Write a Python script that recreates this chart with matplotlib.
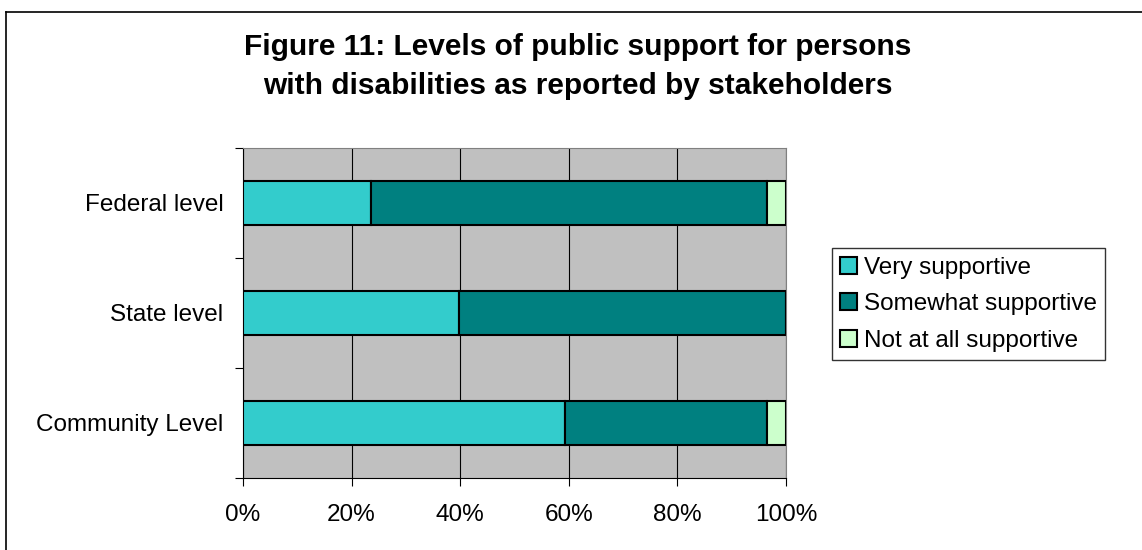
import matplotlib
matplotlib.use('Agg')
from matplotlib import pyplot as plt
from matplotlib.lines import Line2D
import numpy as np

plt.rcParams['font.family'] = ['Liberation Sans', 'DejaVu Sans']

# Data (percent of stakeholders)
categories = ['Community Level', 'State level', 'Federal level']
very = [59.3, 39.7, 23.6]
somewhat = [37.2, 60.3, 72.9]
not_at_all = [3.5, 0.0, 3.5]
series_names = ['Very supportive', 'Somewhat supportive', 'Not at all supportive']
colors = ['#33CCCC', '#008080', '#CCFFCC']

fig = plt.figure(figsize=(11.42, 5.5), dpi=100)
ax = fig.add_axes([0.2128, 0.131, 0.4755, 0.600])

y = np.arange(len(categories))
left = np.zeros(len(categories))
for vals, name, col in zip([very, somewhat, not_at_all], series_names, colors):
    vals = np.array(vals)
    ax.barh(y, vals, left=left, height=0.4, color=col, edgecolor='black',
            linewidth=1.5, label=name, zorder=3)
    left += vals

ax.set_facecolor('#C0C0C0')
ax.set_xlim(0, 100)
ax.set_ylim(-0.5, 2.5)
ax.set_xticks(np.arange(0, 101, 20))
ax.set_xticklabels(['%d%%' % v for v in range(0, 101, 20)], fontsize=17.5)
ax.xaxis.grid(True, color='black', linewidth=0.8, zorder=0)
ax.set_axisbelow(True)

ax.set_yticks(y)
ax.set_yticklabels(categories, fontsize=17.5)
ax.tick_params(axis='y', length=0, pad=14)
ax.set_yticks([-0.5, 0.5, 1.5, 2.5], minor=True)
ax.tick_params(axis='y', which='minor', length=6, width=0.8)
ax.tick_params(axis='x', length=6, width=0.8, pad=13)

for side in ['top', 'right']:
    ax.spines[side].set_color('#808080')
for side in ['left', 'bottom']:
    ax.spines[side].set_color('black')

fig.suptitle('Figure 11: Levels of public support for persons\nwith disabilities as reported by stakeholders',
             x=0.506, y=0.94, fontsize=21.5, fontweight='bold', linespacing=1.5)

leg = fig.legend(loc='upper left', bbox_to_anchor=(0.7285, 0.549), fontsize=17.5,
                 frameon=True, fancybox=False, edgecolor='black', handlelength=0.7,
                 handleheight=0.7, handletextpad=0.25, labelspacing=0.6, borderpad=0.35,
                 borderaxespad=0)
leg.get_frame().set_linewidth(1.0)

# chart frame (only top and left edges are visible in the crop)
fig.add_artist(Line2D([0.00525, 1.0], [0.978, 0.978], transform=fig.transFigure,
                      color='black', linewidth=1.2))
fig.add_artist(Line2D([0.00525, 0.00525], [0.0, 0.978], transform=fig.transFigure,
                      color='black', linewidth=1.2))

fig.savefig('out.png', dpi=100)
